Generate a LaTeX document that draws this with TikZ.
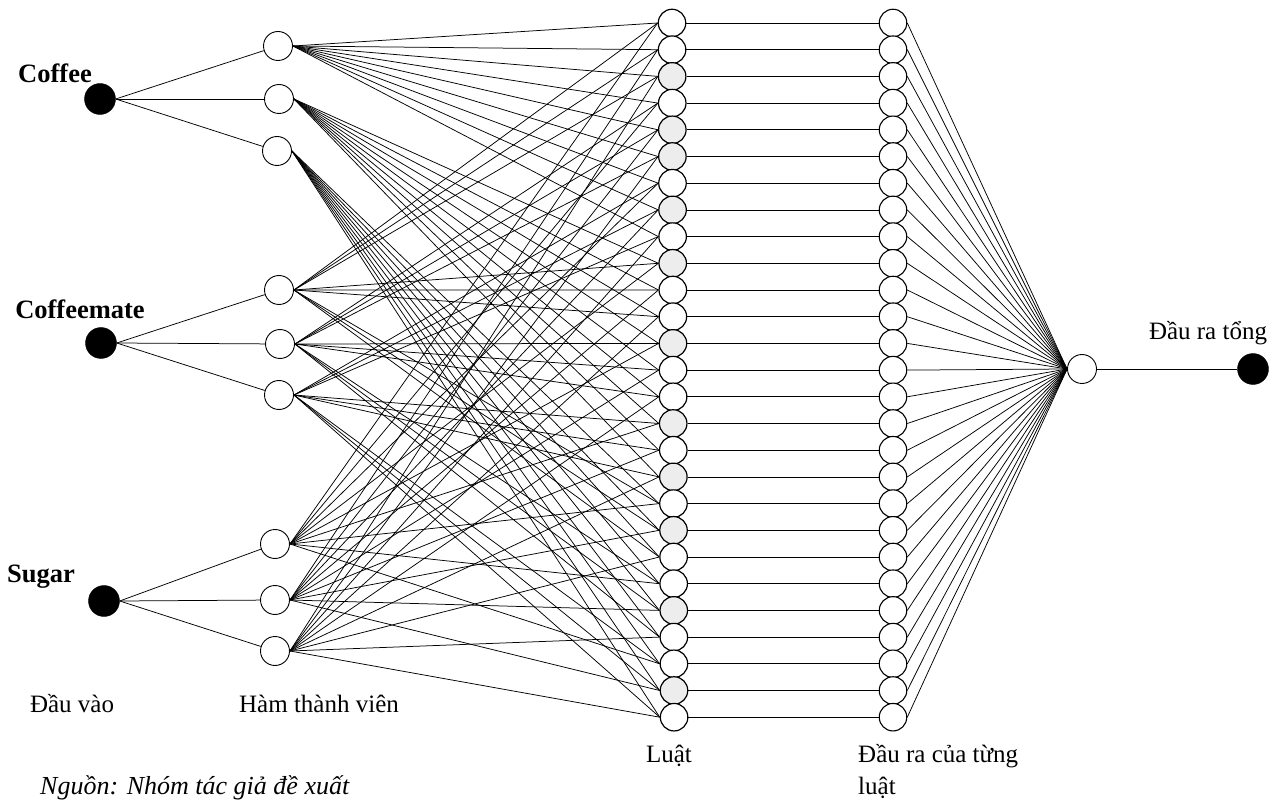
\documentclass[tikz,border=0pt]{standalone}
\usepackage{fontspec}
\setmainfont{Liberation Serif}
\usetikzlibrary{backgrounds}
\begin{document}
\begin{tikzpicture}[x=1pt,y=-1pt,
  inp/.style={circle,draw=black,fill=black,minimum size=31pt,inner sep=0pt},
  mf/.style={circle,draw=black,line width=0.9pt,fill=white,minimum size=29pt,inner sep=0pt},
  rulen/.style={circle,draw=black,line width=1.2pt,minimum size=27.5pt,inner sep=0pt},
  outn/.style={circle,draw=black,line width=1.1pt,fill=white,minimum size=27.5pt,inner sep=0pt},
  sumn/.style={circle,draw=black,line width=0.9pt,fill=white,minimum size=29pt,inner sep=0pt},
  wire/.style={line width=0.75pt},
  lbl/.style={font=\fontsize{25}{30}\selectfont,inner sep=0pt},
  head/.style={font=\fontsize{26.5}{30}\selectfont\bfseries,inner sep=0pt}]
\useasboundingbox (0,0) rectangle (1278,802);

% inputs
\node[inp] (coffee) at (100,99) {};
\node[inp] (mate)   at (101,343) {};
\node[inp] (sugar)  at (104,601) {};

% membership functions
\node[mf] (ca0) at (278,46) {};
\node[mf] (ca1) at (279,99) {};
\node[mf] (ca2) at (277,151) {};
\node[mf] (cm0) at (279,290) {};
\node[mf] (cm1) at (280,344) {};
\node[mf] (cm2) at (279,395) {};
\node[mf] (su0) at (275,544) {};
\node[mf] (su1) at (275,600) {};
\node[mf] (su2) at (275,651) {};

% rule layer and per-rule outputs
\def\grays{{0,0,1,0,1,1,0,1,0,1,0,0,1,0,0,1,0,1,0,1,0,0,1,0,0,1,0}}
\foreach \r in {1,...,27}{
  \pgfmathsetmacro\yy{23+(\r-1)*26.7}
  \pgfmathsetmacro\xx{672+(\r-1)*0.08}
  \pgfmathtruncatemacro\g{7*\grays[\r-1]}
  \node[rulen,fill=black!\g] (r\r) at (\xx,\yy) {};
  \node[outn] (o\r) at (893,\yy) {};
}

% aggregation and final output
\node[sumn] (sum) at (1082,369) {};
\node[inp] (final) at (1253,369) {};

\begin{scope}[on background layer]
  \foreach \i in {0,1,2}{
    \draw[wire] (coffee.east) -- (ca\i);
    \draw[wire] (mate.east) -- (cm\i);
    \draw[wire] (sugar.east) -- (su\i);
  }
  \foreach \i in {0,1,2}{\foreach \j in {0,1,2}{\foreach \k in {0,1,2}{
    \pgfmathtruncatemacro\r{9*\i+3*\j+\k+1}
    \draw[wire] (ca\i.east) -- (r\r.west);
    \draw[wire] (cm\j.east) -- (r\r.west);
    \draw[wire] (su\k.east) -- (r\r.west);
  }}}
  \foreach \r in {1,...,27}{
    \draw[wire] (r\r.east) -- (o\r.west);
    \draw[wire] (o\r.east) -- (sum.west);
  }
  \draw[wire] (sum) -- (final);
\end{scope}

% labels
\node[head] (tcoffee) at (55,73) {Coffee};
\node[head] (tmate) at (80,309) {Coffeemate};
\node[head] (tsugar) at (41,577) {Sugar};
\node[lbl,anchor=base] (ttong) at (1208,340) {Đầu ra tổng};
\node[lbl,anchor=base] (tvao) at (72,712) {Đầu vào};
\node[lbl,anchor=base] (tham) at (319,712) {Hàm thành viên};
\node[lbl,anchor=base] (tluat) at (669,762) {Luật};
\node[lbl,anchor=base west] (tout) at (858,762) {Đầu ra của từng};
\node[lbl,anchor=base west] (tout2) at (858,794) {luật};
\node[lbl,anchor=base west,font=\fontsize{26}{30}\selectfont\itshape] (tsrc) at (40,794) {Nguồn: Nhóm tác giả đề xuất};
\end{tikzpicture}
\end{document}
